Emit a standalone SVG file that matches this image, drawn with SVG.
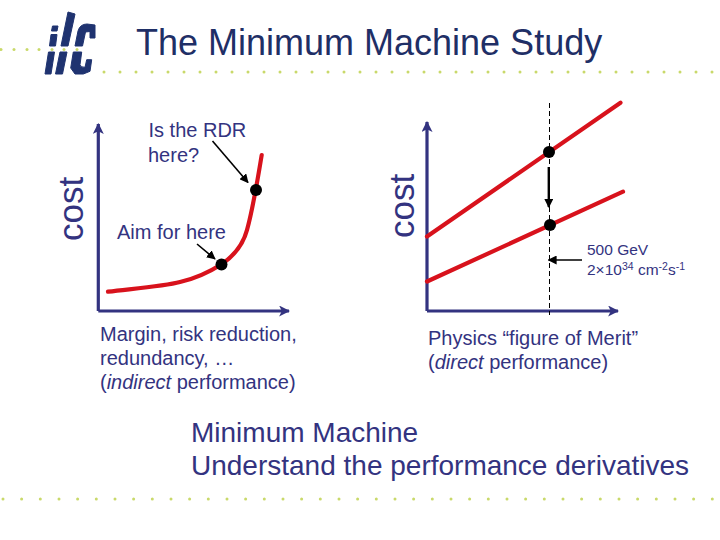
<svg xmlns="http://www.w3.org/2000/svg" width="720" height="540" viewBox="0 0 720 540">
<style>
text{font-family:"Liberation Sans",Arial,sans-serif;fill:#333380}
.title{font-size:36px;fill:#1f2f66}
.lab{font-size:20px}
.cost{font-size:35px}
.small{font-size:15.500px}
.big{font-size:28px}
.axis{stroke:#333380;stroke-width:3.2;fill:none}
.red{stroke:#d8121c;stroke-width:4.2;fill:none;stroke-linecap:round}
.blk{stroke:#000;stroke-width:1.6;fill:none}
.dot{fill:#000}
.logo{fill:#1f3370;stroke:#1f3370;stroke-width:1}
.deco{fill:#c9d96a}
</style>
<defs>
<marker id="ah" viewBox="0 0 10 10" refX="9" refY="5" markerWidth="9" markerHeight="9" markerUnits="userSpaceOnUse" orient="auto"><path d="M0 0L10 5L0 10z" fill="#000"/></marker>
<marker id="ab" viewBox="0 0 10 10" refX="9" refY="5" markerWidth="11" markerHeight="11" markerUnits="userSpaceOnUse" orient="auto"><path d="M0 0L10 5L0 10L2.5 5z" fill="#333380"/></marker>
</defs>
<g id="decor">
<g class="deco">
<circle cx="1" cy="49.500" r="1.500"/><circle cx="14" cy="49.500" r="1.500"/><circle cx="27" cy="49.500" r="1.500"/><circle cx="39" cy="49.500" r="1.500"/><circle cx="52" cy="49.500" r="1.500"/><circle cx="64" cy="49.500" r="1.500"/><circle cx="77" cy="49.500" r="1.500"/>
<circle cx="104" cy="72" r="1.500"/><circle cx="120" cy="72" r="1.500"/><circle cx="136" cy="72" r="1.500"/><circle cx="152" cy="72" r="1.500"/><circle cx="168" cy="72" r="1.500"/><circle cx="184" cy="72" r="1.500"/><circle cx="200" cy="72" r="1.500"/><circle cx="216" cy="72" r="1.500"/><circle cx="232" cy="72" r="1.500"/><circle cx="248" cy="72" r="1.500"/><circle cx="264" cy="72" r="1.500"/><circle cx="280" cy="72" r="1.500"/><circle cx="296" cy="72" r="1.500"/><circle cx="312" cy="72" r="1.500"/><circle cx="328" cy="72" r="1.500"/><circle cx="344" cy="72" r="1.500"/><circle cx="360" cy="72" r="1.500"/><circle cx="376" cy="72" r="1.500"/><circle cx="392" cy="72" r="1.500"/><circle cx="408" cy="72" r="1.500"/><circle cx="424" cy="72" r="1.500"/><circle cx="440" cy="72" r="1.500"/><circle cx="456" cy="72" r="1.500"/><circle cx="472" cy="72" r="1.500"/><circle cx="488" cy="72" r="1.500"/><circle cx="504" cy="72" r="1.500"/><circle cx="520" cy="72" r="1.500"/><circle cx="536" cy="72" r="1.500"/><circle cx="552" cy="72" r="1.500"/><circle cx="568" cy="72" r="1.500"/><circle cx="584" cy="72" r="1.500"/><circle cx="600" cy="72" r="1.500"/><circle cx="616" cy="72" r="1.500"/><circle cx="632" cy="72" r="1.500"/><circle cx="648" cy="72" r="1.500"/><circle cx="664" cy="72" r="1.500"/><circle cx="680" cy="72" r="1.500"/><circle cx="696" cy="72" r="1.500"/><circle cx="712" cy="72" r="1.500"/>
<circle cx="3" cy="499" r="1.500"/><circle cx="21.600" cy="499" r="1.500"/><circle cx="40.300" cy="499" r="1.500"/><circle cx="59" cy="499" r="1.500"/><circle cx="77.600" cy="499" r="1.500"/><circle cx="96.300" cy="499" r="1.500"/><circle cx="115" cy="499" r="1.500"/><circle cx="133.600" cy="499" r="1.500"/><circle cx="152.300" cy="499" r="1.500"/><circle cx="171" cy="499" r="1.500"/><circle cx="189.600" cy="499" r="1.500"/><circle cx="208.300" cy="499" r="1.500"/><circle cx="227" cy="499" r="1.500"/><circle cx="245.600" cy="499" r="1.500"/><circle cx="264.300" cy="499" r="1.500"/><circle cx="283" cy="499" r="1.500"/><circle cx="301.600" cy="499" r="1.500"/><circle cx="320.300" cy="499" r="1.500"/><circle cx="339" cy="499" r="1.500"/><circle cx="357.600" cy="499" r="1.500"/><circle cx="376.300" cy="499" r="1.500"/><circle cx="395" cy="499" r="1.500"/><circle cx="413.600" cy="499" r="1.500"/><circle cx="432.300" cy="499" r="1.500"/><circle cx="451" cy="499" r="1.500"/><circle cx="469.600" cy="499" r="1.500"/><circle cx="488.300" cy="499" r="1.500"/><circle cx="507" cy="499" r="1.500"/><circle cx="525.600" cy="499" r="1.500"/><circle cx="544.300" cy="499" r="1.500"/><circle cx="563" cy="499" r="1.500"/><circle cx="581.600" cy="499" r="1.500"/><circle cx="600.300" cy="499" r="1.500"/><circle cx="619" cy="499" r="1.500"/><circle cx="637.600" cy="499" r="1.500"/><circle cx="656.300" cy="499" r="1.500"/><circle cx="675" cy="499" r="1.500"/><circle cx="693.600" cy="499" r="1.500"/><circle cx="712.300" cy="499" r="1.500"/>
</g>
</g>
<g id="logo" class="logo">
<path d="M52.500 26H58L57 31H51.500Z"/>
<path d="M51 34.500H57L55.500 46H49.500Z"/>
<path d="M48.500 52H54.500L51 74H45Z"/>
<path d="M68 12L75 14L68 46H61Z"/>
<path d="M60 52H67L62.500 74H55.500Z"/>
<path d="M75 46L78 31Q80 24 87 24L95 25V38H90V31.500L85.500 32L82.500 46Z"/>
<path d="M73.300 52H81.700L80 64.700Q80.500 67.500 85 67.300L86.700 59.700H91.700L90 71.300L83.300 74H75L70.700 68Z"/>
</g>
<text class="title" x="136" y="55">The Minimum Machine Study</text>
<g id="connectors">
<path class="axis" d="M98.300 311V124" marker-end="url(#ab)"/>
<path class="axis" d="M98.300 311H289" marker-end="url(#ab)"/>
<path class="axis" d="M427 311V122" marker-end="url(#ab)"/>
<path class="axis" d="M427 311H618" marker-end="url(#ab)"/>
<path class="red" d="M108 291.700C140 288 165 286 180 282C198 278 211 271 222 264C235 255 243 245 247 230C252 212 256 190 261.700 155"/>
<path class="red" d="M427 236.500L620.500 102.700"/>
<path class="red" d="M427 281.500L623 191.700"/>
<path d="M549.500 103V315" stroke="#000" stroke-width="1" stroke-dasharray="5 3" fill="none"/>
<path class="blk" d="M212.500 141L248 182.500" marker-end="url(#ah)"/>
<path class="blk" d="M197 244L215 259" marker-end="url(#ah)"/>
<path d="M548.800 167V207" stroke="#000" stroke-width="2.400" fill="none" marker-end="url(#ah)"/>
<path class="blk" d="M582 260H548.500" marker-end="url(#ah)"/>
</g>
<g id="node-rdr"><circle class="dot" cx="256" cy="190" r="6"/><text class="lab" x="148.500" y="137">Is the RDR</text><text class="lab" x="148" y="161.500">here?</text></g>
<g id="node-aim"><circle class="dot" cx="221.500" cy="264.500" r="6"/><text class="lab" x="117" y="238.500">Aim for here</text></g>
<g id="node-top"><circle class="dot" cx="549" cy="152" r="6"/></g>
<g id="node-low"><circle class="dot" cx="550" cy="225" r="6"/></g>
<text class="cost" transform="translate(83 241) rotate(-90)">cost</text>
<text class="cost" transform="translate(414 238) rotate(-90)">cost</text>
<text class="small" x="587" y="255">500 GeV</text>
<text class="small" x="587" y="274.500">2×10<tspan font-size="10.500" dy="-5">34</tspan><tspan dy="5"> cm</tspan><tspan font-size="10.500" dy="-5">-2</tspan><tspan dy="5">s</tspan><tspan font-size="10.500" dy="-5">-1</tspan></text>
<text class="lab" x="100" y="341">Margin, risk reduction,</text>
<text class="lab" x="100" y="365">redundancy, …</text>
<text class="lab" x="100" y="389">(<tspan font-style="italic">indirect</tspan> performance)</text>
<text class="lab" x="428" y="345">Physics “figure of Merit”</text>
<text class="lab" x="428" y="369">(<tspan font-style="italic">direct</tspan> performance)</text>
<text class="big" x="191" y="442">Minimum Machine</text>
<text class="big" x="191" y="475">Understand the performance derivatives</text>
</svg>
